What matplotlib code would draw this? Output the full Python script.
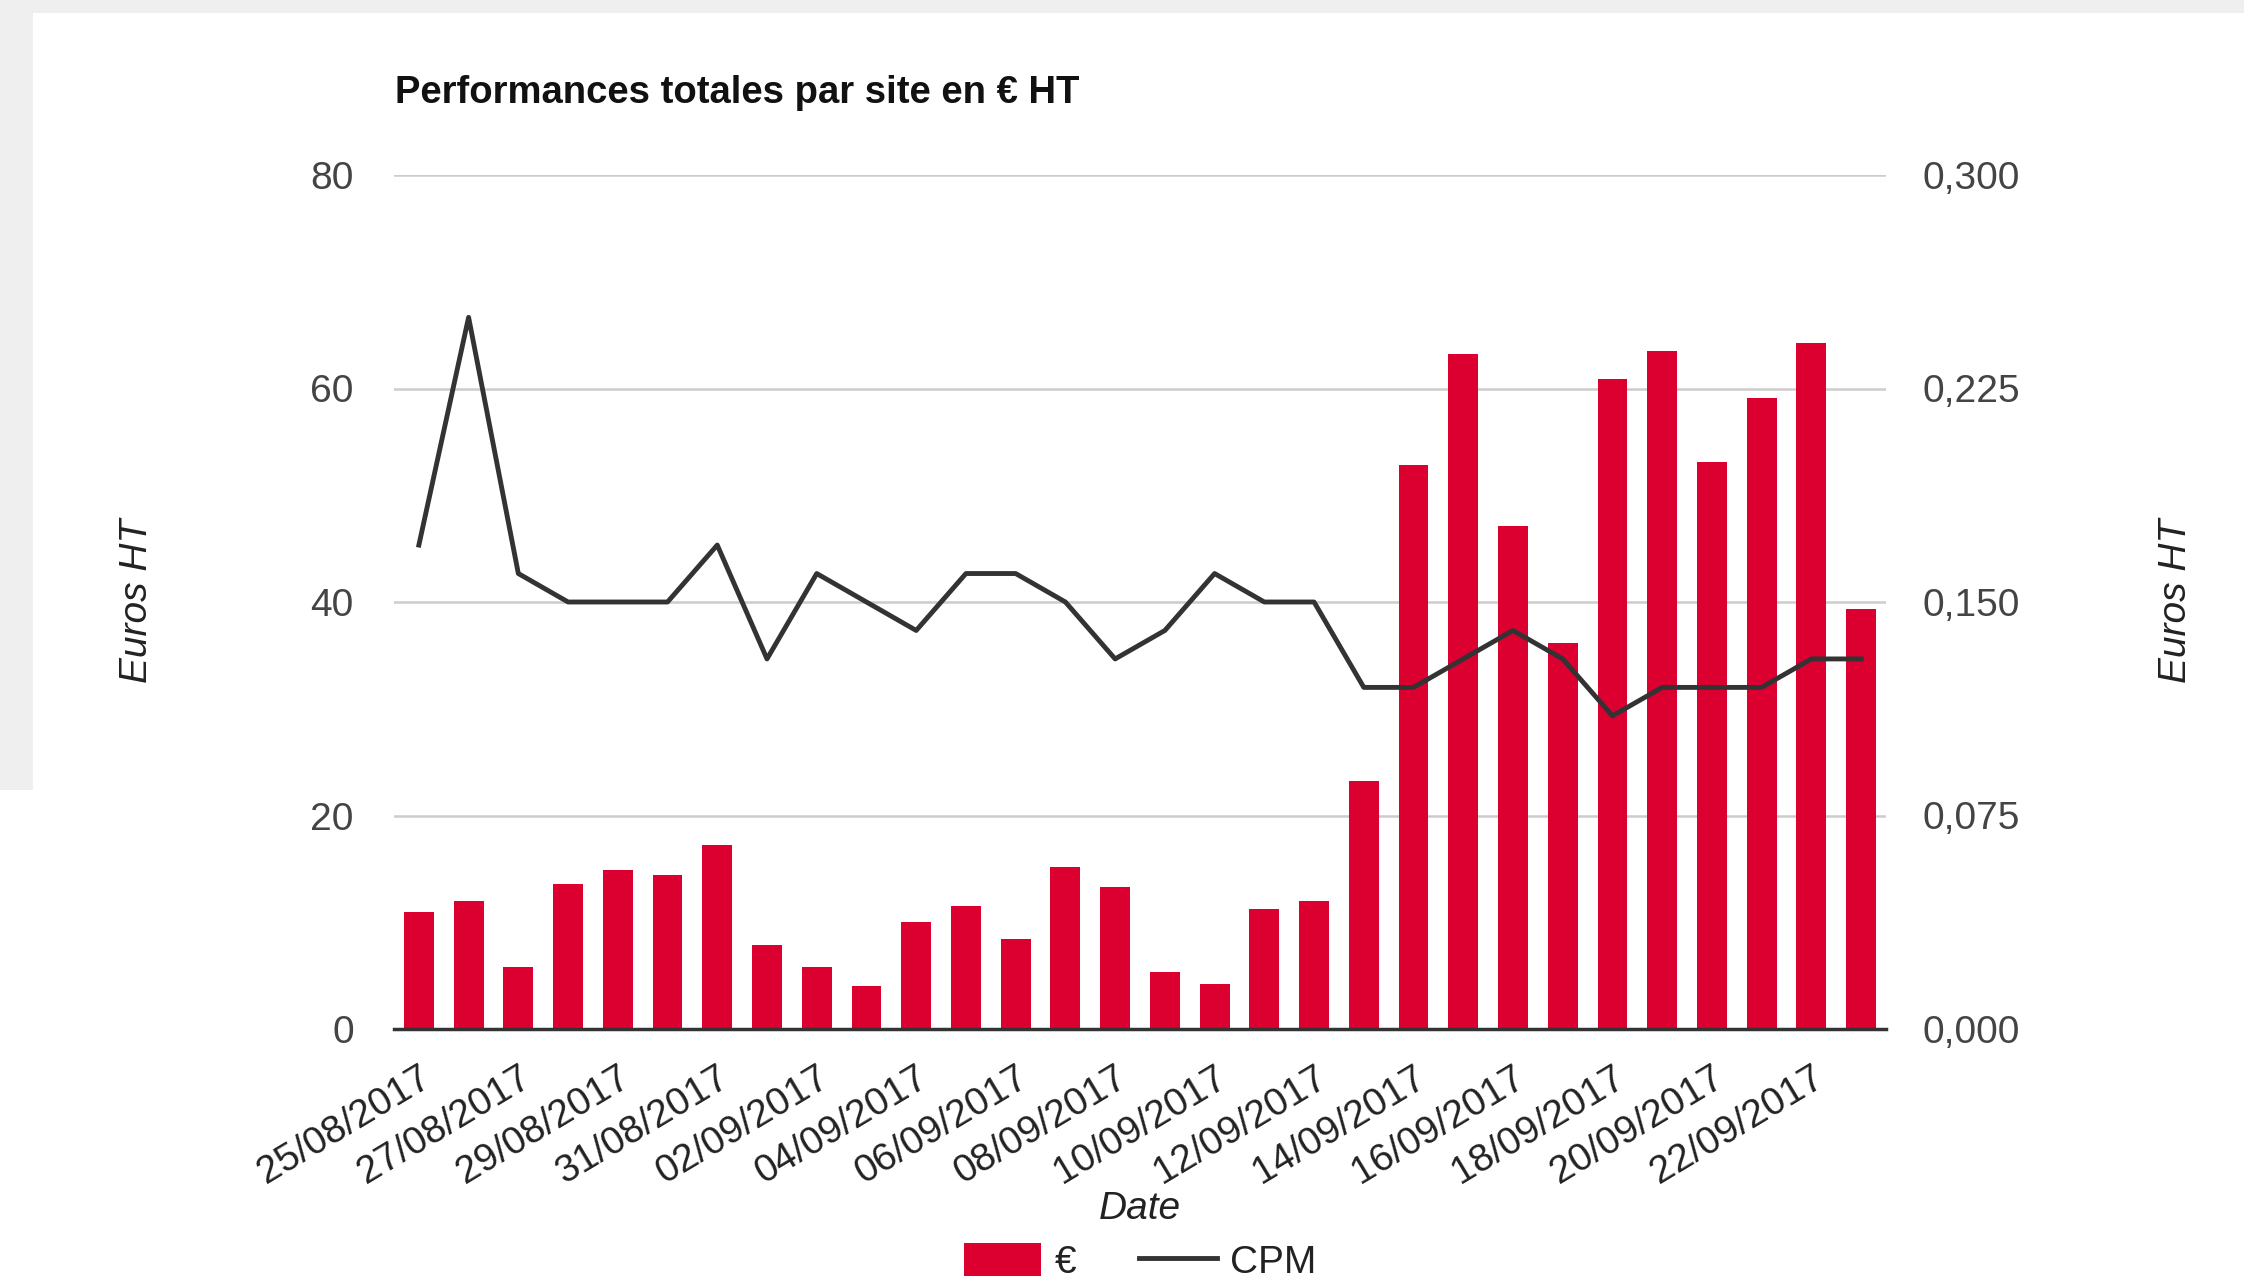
import numpy as np
import matplotlib.pyplot as plt
import matplotlib.ticker as mticker
from matplotlib.patches import Rectangle

plt.rcParams['font.family'] = ['Liberation Sans', 'DejaVu Sans']

dates = ['25/08/2017', '26/08/2017', '27/08/2017', '28/08/2017', '29/08/2017',
         '30/08/2017', '31/08/2017', '01/09/2017', '02/09/2017', '03/09/2017',
         '04/09/2017', '05/09/2017', '06/09/2017', '07/09/2017', '08/09/2017',
         '09/09/2017', '10/09/2017', '11/09/2017', '12/09/2017', '13/09/2017',
         '14/09/2017', '15/09/2017', '16/09/2017', '17/09/2017', '18/09/2017',
         '19/09/2017', '20/09/2017', '21/09/2017', '22/09/2017', '23/09/2017']
euros = [11.0, 12.0, 5.8, 13.6, 14.9, 14.4, 17.2, 7.9, 5.8, 4.0,
         10.0, 11.5, 8.4, 15.2, 13.3, 5.3, 4.2, 11.2, 12.0, 23.2,
         52.8, 63.2, 47.1, 36.2, 60.9, 63.5, 53.1, 59.1, 64.3, 39.3]
cpm = [0.17, 0.25, 0.16, 0.15, 0.15, 0.15, 0.17, 0.13, 0.16, 0.15,
       0.14, 0.16, 0.16, 0.15, 0.13, 0.14, 0.16, 0.15, 0.15, 0.12,
       0.12, 0.13, 0.14, 0.13, 0.11, 0.12, 0.12, 0.12, 0.13, 0.13]
left_ticks = [0, 20, 40, 60, 80]
right_ticks = [0, 0.075, 0.15, 0.225, 0.3]

red = '#dc0030'
dark = '#333333'
tcol = '#444444'

fig = plt.figure(figsize=(22.44, 12.86), dpi=100)
fig.patch.set_facecolor('#efefef')
# white page behind the chart (grey strip on top and upper left)
fig.patches.append(Rectangle((33 / 2244, 0), 1, 1 - 13 / 1286, transform=fig.transFigure,
                             facecolor='white', edgecolor='none', zorder=-10))
fig.patches.append(Rectangle((0, 0), 0.1, 1 - 790 / 1286, transform=fig.transFigure,
                             facecolor='white', edgecolor='none', zorder=-10))

ax = fig.add_axes([394 / 2244, 1 - 1029 / 1286, (1886 - 394) / 2244, (1029 - 175) / 1286])
ax.set_facecolor('none')
x = np.arange(len(euros))
ax.bar(x, euros, width=0.6, color=red, zorder=2, label='€')
ax.set_xlim(-0.5, len(euros) - 0.5)
ax.set_ylim(0, 80)
ax.set_yticks(left_ticks)
ax.yaxis.grid(True, color='#cccccc', linewidth=1.8, zorder=0)
ax.set_axisbelow(True)
for s in ['top', 'right', 'left']:
    ax.spines[s].set_visible(False)
ax.spines['bottom'].set_color(dark)
ax.spines['bottom'].set_linewidth(2.5)
ax.spines['bottom'].set_zorder(4)
ax.tick_params(axis='y', length=0, pad=29, labelsize=28, labelcolor=tcol)
ax.set_xticks(x[::2])
ax.set_xticklabels(dates[::2], rotation=31, ha='right', va='top',
                   rotation_mode='anchor', fontsize=28, color='#222222')
ax.tick_params(axis='x', length=0, pad=22)

ax2 = ax.twinx()
ax2.plot(x, cpm, color=dark, linewidth=3.5, zorder=3, label='CPM')
ax2.set_ylim(0, 0.3)
ax2.set_yticks(right_ticks)
ax2.yaxis.set_major_formatter(mticker.FuncFormatter(lambda v, p: f'{v:.3f}'.replace('.', ',')))
ax2.tick_params(axis='y', length=0, pad=26, labelsize=28, labelcolor=tcol)
for s in ax2.spines.values():
    s.set_visible(False)

fig.text(395 / 2244, 1 - 93 / 1286, 'Performances totales par site en € HT',
         fontsize=27.5, fontweight='bold', ha='left', va='center', color='#111111')
fig.text(137 / 2244, 1 - 601 / 1286, 'Euros HT', rotation=90, fontsize=28,
         style='italic', ha='center', va='center', color='#222222')
fig.text(2176 / 2244, 1 - 601 / 1286, 'Euros HT', rotation=90, fontsize=28,
         style='italic', ha='center', va='center', color='#222222')
fig.text(1140 / 2244, 1 - 1209 / 1286, 'Date', fontsize=28, style='italic',
         ha='center', va='center', color='#222222')

h1, l1 = ax.get_legend_handles_labels()
h2, l2 = ax2.get_legend_handles_labels()
fig.legend(h1 + h2, l1 + l2, loc='center', bbox_to_anchor=(1140 / 2244, 1 - 1262 / 1286),
           ncol=2, frameon=False, fontsize=28, handlelength=2.0, handleheight=0.9,
           handletextpad=0.35, columnspacing=1.6, borderpad=0, labelcolor='#222222')

fig.savefig('out.png', dpi=100, facecolor=fig.get_facecolor())
